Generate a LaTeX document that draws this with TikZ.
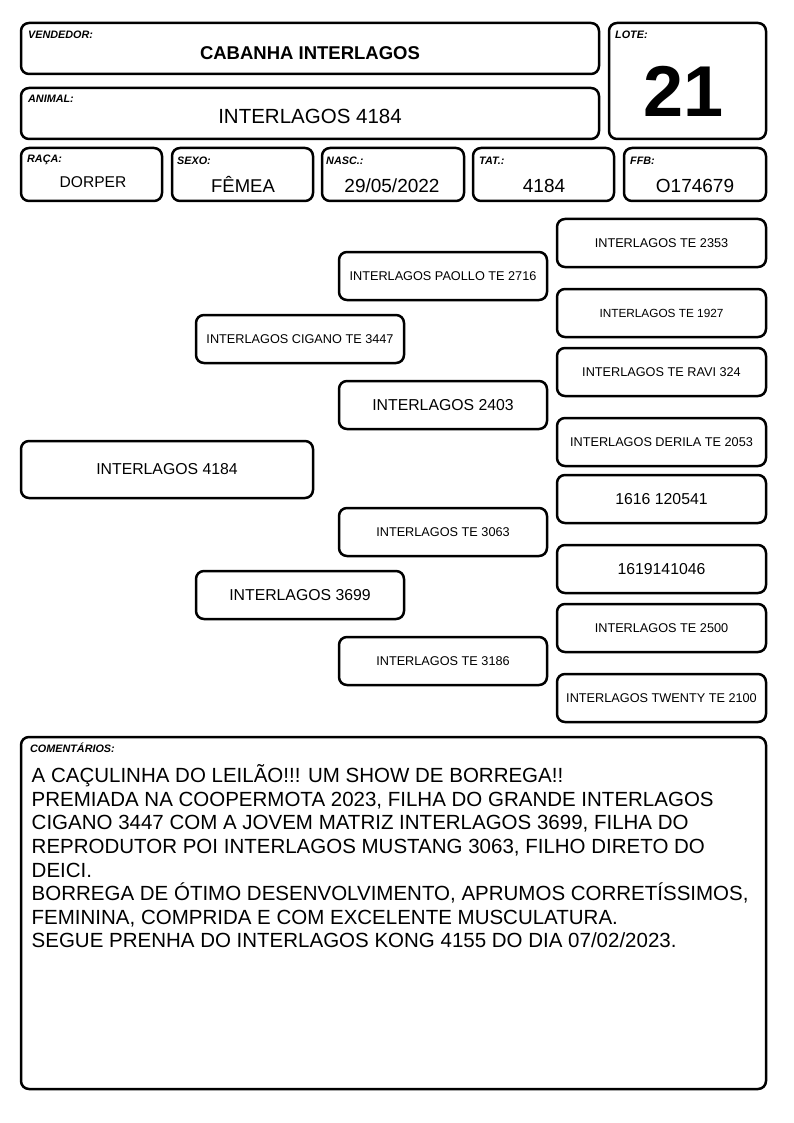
\documentclass[tikz,border=0pt]{standalone}
\usepackage{fontspec}
\setmainfont{Liberation Sans}
\newcommand\fs[1]{\fontsize{#1}{#1}\selectfont}
\tikzset{
  box/.style={draw, line width=2.5pt, rounded corners=8pt, inner sep=0pt, align=center},
  lab/.style={font=\fs{10.8}\bfseries\itshape, anchor=base west, inner sep=0pt},
  val/.style={anchor=base, inner sep=0pt},
}
% \pbox{name}{x1}{y1}{x2}{y2}{size}{text}
\newcommand\pbox[7]{\node[box, minimum width={(#4-#2)*1pt}, minimum height={(#5-#3)*1pt}, font=\fs{#6}] (#1) at ({(#2+#4)/2},{(#3+#5)/2}) {#7};}
\begin{document}
\begin{tikzpicture}[x=1pt,y=-1pt]
\useasboundingbox (0,0) rectangle (794,1123);
% header
\pbox{vend}{21}{23}{599}{74}{10}{}
\pbox{anim}{21}{88}{599}{139}{10}{}
\pbox{lote}{609}{23}{766}{139}{10}{}
\pbox{raca}{21}{148}{162}{201}{10}{}
\pbox{sexo}{172}{148}{313}{201}{10}{}
\pbox{nasc}{322}{148}{464}{201}{10}{}
\pbox{tat}{473}{148}{614}{201}{10}{}
\pbox{ffb}{624}{148}{766}{201}{10}{}
\node[lab] (vendl) at (28,39) {VENDEDOR:};
\node[lab] (animl) at (28,103) {ANIMAL:};
\node[lab] (lotel) at (615,39) {LOTE:};
\node[lab] (racal) at (27,163) {RAÇA:};
\node[lab] (sexol) at (177,165) {SEXO:};
\node[lab] (nascl) at (326,165) {NASC.:};
\node[lab] (tatl) at (479,165) {TAT.:};
\node[lab] (ffbl) at (630,165) {FFB:};
\node[val, font=\fs{18.5}\bfseries] (vendv) at (310,60) {CABANHA INTERLAGOS};
\node[val, font=\fs{20.5}] (animv) at (310,123.5) {INTERLAGOS 4184};
\node[val, font=\fs{72}\bfseries] (lotev) at (684,117) {21};
\node[val, font=\fs{15.6}] (racav) at (93,187.6) {DORPER};
\node[val, font=\fs{18.5}] (sexov) at (243,193) {FÊMEA};
\node[val, font=\fs{19}] (nascv) at (392,193) {29/05/2022};
\node[val, font=\fs{19}] (tatv) at (544,193) {4184};
\node[val, font=\fs{19}] (ffbv) at (695,193) {O174679};
% pedigree
\pbox{p0}{21}{441}{313}{498}{15.8}{INTERLAGOS 4184}
\pbox{p1}{196}{315}{404}{363}{12.7}{INTERLAGOS CIGANO TE 3447}
\pbox{p2}{196}{571}{404}{619}{15.8}{INTERLAGOS 3699}
\pbox{p11}{339}{252}{547}{300}{12.7}{INTERLAGOS PAOLLO TE 2716}
\pbox{p12}{339}{381}{547}{429}{15.8}{INTERLAGOS 2403}
\pbox{p21}{339}{508}{547}{556}{12.7}{INTERLAGOS TE 3063}
\pbox{p22}{339}{637}{547}{685}{12.7}{INTERLAGOS TE 3186}
\pbox{q1}{557}{219}{766}{267}{12.7}{INTERLAGOS TE 2353}
\pbox{q2}{557}{289}{766}{337}{11.8}{INTERLAGOS TE 1927}
\pbox{q3}{557}{348}{766}{396}{12.7}{INTERLAGOS TE RAVI 324}
\pbox{q4}{557}{418}{766}{466}{12.7}{INTERLAGOS DERILA TE 2053}
\pbox{q5}{557}{475}{766}{523}{15.8}{1616 120541}
\pbox{q6}{557}{545}{766}{593}{15.8}{1619141046}
\pbox{q7}{557}{604}{766}{652}{12.7}{INTERLAGOS TE 2500}
\pbox{q8}{557}{674}{766}{722}{12.7}{INTERLAGOS TWENTY TE 2100}
% comments
\pbox{com}{21}{737}{766}{1089}{10}{}
\node[lab] (coml) at (30,752.5) {COMENTÁRIOS:};
\node[anchor=north west, inner sep=0pt, align=left, font=\fontsize{20.5}{23.6}\selectfont] (comt) at (31.5,762.5)
{\rule{0pt}{20pt}A CAÇULINHA DO LEILÃO!!! UM SHOW DE BORREGA!!\\
PREMIADA NA COOPERMOTA 2023, FILHA DO GRANDE INTERLAGOS\\
CIGANO 3447 COM A JOVEM MATRIZ INTERLAGOS 3699, FILHA DO\\
REPRODUTOR POI INTERLAGOS MUSTANG 3063, FILHO DIRETO DO\\
DEICI.\\
BORREGA DE ÓTIMO DESENVOLVIMENTO, APRUMOS CORRETÍSSIMOS,\\
FEMININA, COMPRIDA E COM EXCELENTE MUSCULATURA.\\
SEGUE PRENHA DO INTERLAGOS KONG 4155 DO DIA 07/02/2023.};
\end{tikzpicture}
\end{document}
